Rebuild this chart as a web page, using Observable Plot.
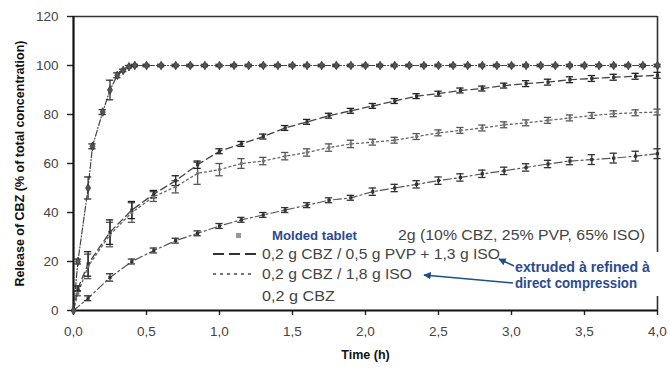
<!DOCTYPE html>
<html>
<head>
<meta charset="utf-8">
<script src="https://cdn.jsdelivr.net/npm/d3@7"></script>
<script src="https://cdn.jsdelivr.net/npm/@observablehq/plot@0.6"></script>
<style>
  body { margin: 0; background: #fff; }
  #wrap { position: relative; width: 670px; height: 370px; font-family: "Liberation Sans", Arial, sans-serif; }
  #wrap svg.overlay { position: absolute; left: 0; top: 0; pointer-events: none; }
</style>
</head>
<body>
<div id="wrap"></div>
<script>
// ---- data ----
const times      = [0, 0.03, 0.1, 0.25, 0.4, 0.55, 0.7, 0.85, 1.0, 1.15, 1.3, 1.45, 1.6, 1.75, 1.9, 2.05, 2.2, 2.35, 2.5, 2.65, 2.8, 2.95, 3.1, 3.25, 3.4, 3.55, 3.7, 3.85, 4.0];
const pvpIso     = [0, 9, 19, 32, 41, 47.5, 53, 59.5, 65, 68, 71, 74.5, 77, 79.5, 81.5, 83.5, 85.5, 87.5, 88.5, 89.8, 90.6, 91.8, 92.6, 93.2, 94.2, 94.7, 95.2, 95.6, 96];
const pvpIsoErr  = [0, 1, 5, 5, 3.5, 1.5, 2, 1.5, 1, 1, 1, 1, 1, 1, 1, 1, 1, 1, 1, 1, 1, 1, 1.2, 1.2, 1.2, 1.2, 1.2, 1.2, 1.2];
const isoOnly    = [0, 7, 18, 31, 40, 46.5, 50.5, 56, 57.5, 60, 61, 63, 64.5, 66.5, 68, 68.7, 69.5, 71, 72.5, 73.5, 74.5, 75.8, 76.6, 77.6, 78.6, 79.6, 80.3, 80.7, 81];
const isoOnlyErr = [0, 1, 5, 5, 4, 2, 2.5, 4.5, 2.5, 2, 1.5, 1.5, 1.5, 1.5, 1.5, 1.2, 1.2, 1.2, 1.2, 1.2, 1.2, 1.2, 1.2, 1.2, 1.2, 1.2, 1.2, 1.2, 1.2];
const pureCbz    = [0, null, 5, 13.5, 20, 24.5, 28.5, 31.5, 34.5, 37, 39, 41, 43, 45, 46, 48.5, 50, 51.5, 53, 54.3, 55.8, 57, 58.4, 59.8, 61, 61.6, 62.2, 63, 64];
const pureCbzErr = [0, 0, 1, 1.5, 1, 1, 1, 1, 1, 1, 1, 1, 1, 1, 1, 1.5, 1.5, 1.5, 1.5, 1.5, 1.5, 1.5, 1.5, 1.5, 1.5, 2, 2, 2, 2];
const moldedTimes = [0, 0.03, 0.1, 0.13, 0.2, 0.25, 0.3, 0.34, 0.38, 0.42, 0.5, 0.6, 0.7, 0.8, 0.9, 1.0, 1.1, 1.2, 1.3, 1.4, 1.5, 1.6, 1.7, 1.8, 1.9, 2.0, 2.1, 2.2, 2.3, 2.4, 2.5, 2.6, 2.7, 2.8, 2.9, 3.0, 3.1, 3.2, 3.3, 3.4, 3.5, 3.6, 3.7, 3.8, 3.9, 4.0];
const molded      = [0, 20, 50, 67, 81, 90, 96, 98, 99.5, 100, 100, 100, 100, 100, 100, 100, 100, 100, 100, 100, 100, 100, 100, 100, 100, 100, 100, 100, 100, 100, 100, 100, 100, 100, 100, 100, 100, 100, 100, 100, 100, 100, 100, 100, 100, 100];
const moldedErr   = [0, 1, 4.5, 1, 1, 4, 1, 0.5, 0.5, 0.5, 0.5, 0.5, 0.5, 0.5, 0.5, 0.5, 0.5, 0.5, 0.5, 0.5, 0.5, 0.5, 0.5, 0.5, 0.5, 0.5, 0.5, 0.5, 0.5, 0.5, 0.5, 0.5, 0.5, 0.5, 0.5, 0.5, 0.5, 0.5, 0.5, 0.5, 0.5, 0.5, 0.5, 0.5, 0.5, 0.5];
const xTicks = [0, 0.5, 1, 1.5, 2, 2.5, 3, 3.5, 4];
const yTicks = [0, 20, 40, 60, 80, 100, 120];

const legendLines = [
  "2g (10% CBZ, 25% PVP, 65% ISO)",
  "0,2 g CBZ / 0,5 g PVP + 1,3 g ISO",
  "0,2 g CBZ / 1,8 g ISO",
  "0,2 g CBZ"
];
const moldedLabel = "Molded tablet";
const noteLines = ["extruded \u00e0  refined \u00e0", "direct compression"];

// ---- tables ----
function rows(name, ts, vs, es) {
  return ts.map((t, i) => ({series: name, t, v: vs[i], e: es[i]})).filter(d => d.v != null);
}
const sMolded = rows("molded", moldedTimes, molded, moldedErr);
const sPvp = rows("pvp", times, pvpIso, pvpIsoErr);
const sIso = rows("iso", times, isoOnly, isoOnlyErr);
const sCbz = rows("cbz", times, pureCbz, pureCbzErr);

const comma = d => d3.format(".1f")(d).replace(".", ",");

function errMarks(data, color) {
  const withErr = data.filter(d => d.e > 0);
  return [
    Plot.ruleX(withErr, {x: "t", y1: d => d.v - d.e, y2: d => d.v + d.e, stroke: color, strokeWidth: 1.3}),
    Plot.ruleY(withErr, {y: d => d.v + d.e, x1: d => d.t - 0.025, x2: d => d.t + 0.025, stroke: color, strokeWidth: 1.3}),
    Plot.ruleY(withErr, {y: d => d.v - d.e, x1: d => d.t - 0.025, x2: d => d.t + 0.025, stroke: color, strokeWidth: 1.3})
  ];
}

const chart = Plot.plot({
  width: 670,
  height: 370,
  marginLeft: 73,
  marginRight: 13,
  marginTop: 16,
  marginBottom: 60,
  style: {fontFamily: "'Liberation Sans', Arial, sans-serif", background: "#fff"},
  x: {domain: [0, 4]},
  y: {domain: [0, 120]},
  marks: [
    Plot.axisX({ticks: xTicks, tickFormat: comma, tickSize: 5, tickPadding: 11, fontSize: 13.5, label: null, stroke: "#222", strokeWidth: 1.4, color: "#444"}),
    Plot.axisY({ticks: yTicks, tickFormat: d => String(d), tickSize: 6, tickPadding: 9, fontSize: 13.5, label: null, stroke: "#222", strokeWidth: 1.4, color: "#444"}),
    // frame
    Plot.ruleY([120], {stroke: "#333", strokeWidth: 1.6}),
    Plot.ruleX([4], {stroke: "#333", strokeWidth: 1.6}),
    Plot.ruleX([0], {stroke: "#111", strokeWidth: 2.2}),
    Plot.ruleY([0], {stroke: "#111", strokeWidth: 2.2}),
    // series lines
    Plot.line(sCbz, {x: "t", y: "v", stroke: "#555", strokeWidth: 1.2, strokeDasharray: "8,3,2,3"}),
    Plot.line(sIso, {x: "t", y: "v", stroke: "#666", strokeWidth: 1.3, strokeDasharray: "2,3"}),
    Plot.line(sPvp, {x: "t", y: "v", stroke: "#444", strokeWidth: 1.3, strokeDasharray: "7,4"}),
    Plot.line(sMolded, {x: "t", y: "v", stroke: "#444", strokeWidth: 1.2, strokeDasharray: "6,2,1,2"}),
    // error bars
    ...errMarks(sCbz, "#333"),
    ...errMarks(sIso, "#555"),
    ...errMarks(sPvp, "#222"),
    ...errMarks(sMolded, "#333"),
    // markers
    Plot.dot(sCbz, {x: "t", y: "v", symbol: "square", r: 1.8, fill: "#333"}),
    Plot.dot(sIso, {x: "t", y: "v", symbol: "square", r: 1.6, fill: "#777"}),
    Plot.dot(sPvp, {x: "t", y: "v", symbol: "square", r: 1.8, fill: "#333"}),
    Plot.dot(sMolded, {x: "t", y: "v", symbol: "diamond", r: 2.6, fill: "#555", stroke: "#333", strokeWidth: 0.8}),
    // axis titles
    Plot.text(["Release of CBZ (% of total concentration)"], {frameAnchor: "left", textAnchor: "middle", rotate: -90, dx: -54, fontSize: 12.5, fontWeight: "bold", fill: "#111"}),
    Plot.text(["Time (h)"], {frameAnchor: "bottom", dy: 48, fontSize: 12.5, fontWeight: "bold", fill: "#111"})
  ]
});

const wrap = document.getElementById("wrap");
wrap.appendChild(chart);

// ---- legend / annotation overlay ----
const ov = d3.select(wrap).append("svg").attr("class", "overlay")
  .attr("width", 670).attr("height", 370)
  .style("font-family", "'Liberation Sans', Arial, sans-serif");

const defs = ov.append("defs");
defs.append("marker").attr("id", "ah").attr("viewBox", "0 0 10 10")
  .attr("refX", 9).attr("refY", 5).attr("markerWidth", 5).attr("markerHeight", 5)
  .attr("orient", "auto")
  .append("path").attr("d", "M0,0 L10,5 L0,10 z").attr("fill", "#1f4e8c");

ov.append("rect").attr("x", 503).attr("y", 252).attr("width", 167).attr("height", 44).attr("fill", "#fff");

// molded marker
ov.append("rect").attr("x", 236).attr("y", 233).attr("width", 5).attr("height", 5).attr("fill", "#999");
ov.append("text").attr("x", 272).attr("y", 240).attr("font-size", 13).attr("font-weight", "bold")
  .attr("fill", "#2b4a8e").attr("textLength", 85).attr("lengthAdjust", "spacingAndGlyphs").text(moldedLabel);

const legTxt = [
  {x: 398, y: 240, w: 247},
  {x: 262, y: 259, w: 238},
  {x: 262, y: 279, w: 150},
  {x: 262, y: 301, w: 73}
];
legTxt.forEach((p, i) => {
  ov.append("text").attr("x", p.x).attr("y", p.y).attr("font-size", 14).attr("fill", "#444")
    .attr("textLength", p.w).attr("lengthAdjust", "spacingAndGlyphs").text(legendLines[i]);
});
ov.append("line").attr("x1", 213).attr("x2", 260).attr("y1", 254).attr("y2", 254)
  .attr("stroke", "#333").attr("stroke-width", 1.8).attr("stroke-dasharray", "11,5");
ov.append("line").attr("x1", 213).attr("x2", 251).attr("y1", 274).attr("y2", 274)
  .attr("stroke", "#444").attr("stroke-width", 1.4).attr("stroke-dasharray", "3,4");

// annotation
ov.append("text").attr("x", 515).attr("y", 272).attr("font-size", 14).attr("font-weight", "bold")
  .attr("fill", "#2b4a8e").attr("textLength", 135).attr("lengthAdjust", "spacingAndGlyphs").text(noteLines[0]);
ov.append("text").attr("x", 515).attr("y", 288).attr("font-size", 14).attr("font-weight", "bold")
  .attr("fill", "#2b4a8e").attr("textLength", 122).attr("lengthAdjust", "spacingAndGlyphs").text(noteLines[1]);
ov.append("line").attr("x1", 514).attr("y1", 266).attr("x2", 499).attr("y2", 259)
  .attr("stroke", "#1f4e8c").attr("stroke-width", 1.5).attr("marker-end", "url(#ah)");
ov.append("line").attr("x1", 513).attr("y1", 283).attr("x2", 424).attr("y2", 275)
  .attr("stroke", "#1f4e8c").attr("stroke-width", 1.5).attr("marker-end", "url(#ah)");
</script>
</body>
</html>
